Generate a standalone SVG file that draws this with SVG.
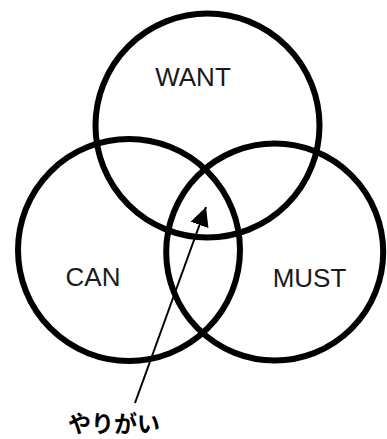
<svg xmlns="http://www.w3.org/2000/svg" width="387" height="439" viewBox="0 0 387 439">
<defs>
<style>
.c{fill:none;stroke:#000;stroke-width:6}
.t{font-family:"Liberation Sans",Arial,sans-serif;font-size:26px;fill:#1a1a1a;text-anchor:middle}
.j{font-family:"Noto Sans CJK JP",sans-serif;font-size:23px;font-weight:bold;fill:#000;text-anchor:middle}
</style>
<marker id="ah" viewBox="0 0 10 10" refX="10" refY="5" markerWidth="9.5" markerHeight="10" markerUnits="strokeWidth" orient="auto">
<path d="M0,0 L10,5 L0,10 z" fill="#000"/>
</marker>
</defs>
<rect width="387" height="439" fill="#fff"/>
<g id="want"><circle class="c" cx="207.5" cy="125.5" r="112"/><text class="t" x="193" y="86">WANT</text></g>
<g id="can"><circle class="c" cx="129" cy="250" r="111"/><text class="t" x="93" y="286">CAN</text></g>
<g id="must"><circle class="c" cx="274.7" cy="252" r="108.5"/><text class="t" x="309.5" y="287">MUST</text></g>
<g id="label"><text class="j" x="114" y="432">やりがい</text></g>
<g id="connectors"><line x1="135" y1="403" x2="206" y2="207" stroke="#000" stroke-width="2" marker-end="url(#ah)"/></g>
</svg>
